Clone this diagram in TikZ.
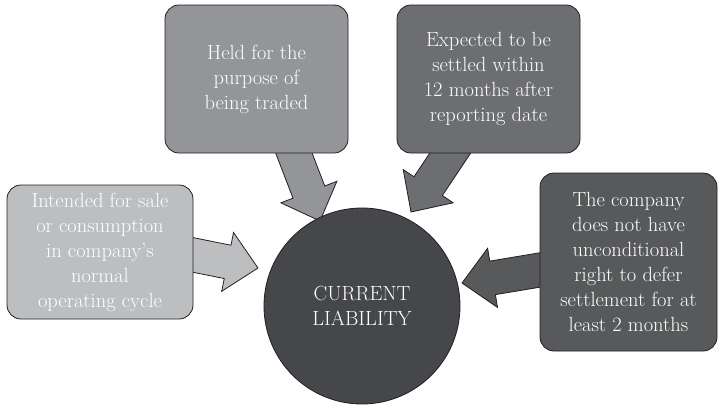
\documentclass[tikz,border=0pt]{standalone}
\usetikzlibrary{calc}
\pgfdeclarelayer{bg}
\pgfsetlayers{bg,main}

\definecolor{edge}{HTML}{231F20}
\definecolor{grayA}{HTML}{BCBEC0}
\definecolor{grayB}{HTML}{939598}
\definecolor{grayC}{HTML}{6D6E71}
\definecolor{grayD}{HTML}{58595B}
\definecolor{hubgray}{HTML}{46474A}

% block arrow from #1 to #2, filled with #3
\newcommand{\fatarrow}[3]{%
  \coordinate (sb) at ($(#1)!-15pt!(#2)$);
  \coordinate (hb) at ($(#2)!31pt!(#1)$);
  \filldraw[fill=#3, draw=edge, line width=.8pt, line join=miter]
    ($(sb)!17pt!90:(#2)$) -- ($(hb)!17pt!-90:(sb)$) -- ($(hb)!30pt!-90:(sb)$) -- (#2)
    -- ($(hb)!30pt!90:(sb)$) -- ($(hb)!17pt!90:(sb)$) -- ($(sb)!17pt!-90:(#2)$) -- cycle;
}

\begin{document}
\begin{tikzpicture}[x=1pt, y=-1pt,
  box/.style={draw=edge, line width=.8pt, rounded corners=14pt, align=center,
    text=white, font=\fontsize{20.5}{25}\selectfont, inner sep=0pt},
  hub/.style={circle, draw=edge, line width=.8pt, fill=hubgray, minimum size=196pt,
    align=center, text=white, font=\fontsize{20.5}{25}\selectfont}]
\useasboundingbox (0,0) rectangle (720,407);

\node [hub] (liab) at (362,306) {CURRENT\\LIABILITY};

\node [box, fill=grayA, minimum width=186pt, minimum height=134pt] (sale) at (100,252)
  {Intended for sale\\or consumption\\in company's\\normal\\operating cycle};
\node [box, fill=grayB, minimum width=183pt, minimum height=148pt] (traded) at (256.5,79)
  {Held for the\\purpose of\\being traded};
\node [box, fill=grayC, minimum width=183pt, minimum height=148pt] (settled) at (488.5,79)
  {Expected to be\\settled within\\12 months after\\reporting date};
\node [box, fill=grayD, minimum width=177pt, minimum height=178pt] (defer) at (628.5,262)
  {The company\\does not have\\unconditional\\right to defer\\settlement for at\\least 2 months};

% arrow ends
\coordinate (saleout) at ($(sale.east)+(0,3)$);
\coordinate (tradedout) at ($(traded.south)+(37.5,0)$);
\coordinate (settledout) at ($(settled.south)+(-38.5,0)$);
\coordinate (deferout) at ($(defer.west)+(0,8)$);
\coordinate (saletip) at (258,268);
\coordinate (tradedtip) at (320,221);
\coordinate (settledtip) at (411,212);
\coordinate (defertip) at (462,283);

\begin{pgfonlayer}{bg}
\fatarrow{saleout}{saletip}{grayA}
\fatarrow{tradedout}{tradedtip}{grayB}
\fatarrow{settledout}{settledtip}{grayC}
\fatarrow{deferout}{defertip}{grayD}
\end{pgfonlayer}
\end{tikzpicture}
\end{document}
